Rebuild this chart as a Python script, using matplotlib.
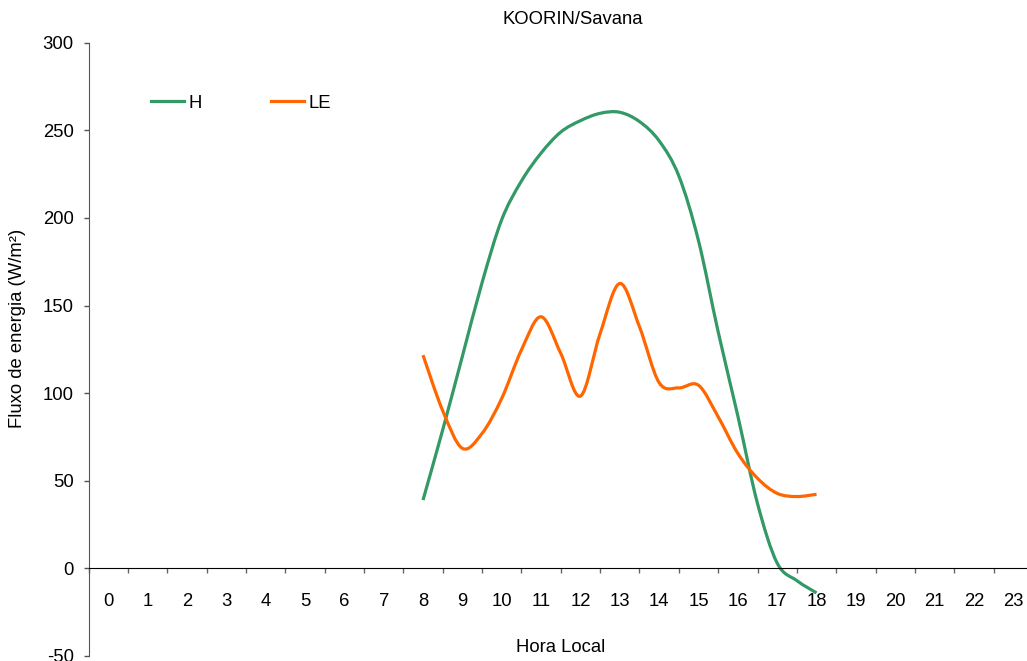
import matplotlib
matplotlib.use("Agg")
import matplotlib.pyplot as plt
import numpy as np
from matplotlib.path import Path
from matplotlib.patches import PathPatch
from matplotlib.lines import Line2D

plt.rcParams["font.family"] = ["Liberation Sans", "DejaVu Sans"]
plt.rcParams["axes.unicode_minus"] = False

GREEN = "#339966"
ORANGE = "#FF6600"

# half-hourly fluxes, local time
hours = [8, 8.5, 9, 9.5, 10, 10.5, 11, 11.5, 12, 12.5, 13, 13.5, 14, 14.5,
         15, 15.5, 16, 16.5, 17, 17.5, 18]
H = [39, 79, 121, 163, 199, 221, 237, 249, 255.5, 259.7, 260.3, 255, 244,
     224, 187, 135, 87, 37, 3, -7, -14]
LE = [121.7, 90, 68.5, 77, 97, 124.6, 143.6, 122.7, 98.3, 134, 162.6, 137.9,
      106, 103, 104.5, 86.5, 65.6, 51.4, 42.8, 41, 42.3]
hour_labels = [str(h) for h in range(24)]
yticks = [-50, 0, 50, 100, 150, 200, 250, 300]


def smooth_path(x, y):
    """Catmull-Rom style cubic Bezier path through the points."""
    p = np.column_stack([x, y]).astype(float)
    pts = np.vstack([p[0], p, p[-1]])
    verts = [p[0]]
    codes = [Path.MOVETO]
    for i in range(1, len(pts) - 2):
        p0, p1, p2, p3 = pts[i - 1], pts[i], pts[i + 1], pts[i + 2]
        c1 = p1 + (p2 - p0) / 6.0
        c2 = p2 - (p3 - p1) / 6.0
        verts += [c1, c2, p2]
        codes += [Path.CURVE4] * 3
    return Path(verts, codes)


fig = plt.figure(figsize=(10.27, 6.61), dpi=100)
ax = fig.add_axes([88.5 / 1027, 1 - 656 / 661, (1033 - 88.5) / 1027, (656 - 42.7) / 661])

for ys, col in [(H, GREEN), (LE, ORANGE)]:
    ax.add_patch(PathPatch(smooth_path(hours, ys), fill=False, edgecolor=col,
                           lw=2.3, capstyle="butt", joinstyle="round"))

ax.set_xlim(-0.5, 23.5)
ax.set_ylim(-50, 300)

# category axis: ticks on the boundaries, labels in the middle
ax.set_xticks(np.arange(-0.5, 24, 1.0))
ax.set_xticklabels([])
ax.set_xticks(range(24), minor=True)
ax.set_xticklabels(hour_labels, minor=True)
ax.tick_params(axis="x", which="major", direction="out", length=3.6,
               width=1, color="#666666")
ax.tick_params(axis="x", which="minor", length=0, pad=17.5, labelsize=13.3)

ax.set_yticks(yticks)
ax.tick_params(axis="y", direction="out", length=3.6, width=1,
               color="#555555", pad=7, labelsize=13.3)

ax.spines["bottom"].set_position(("data", 0))
ax.spines["bottom"].set_color("black")
ax.spines["left"].set_color("#555555")
ax.spines["top"].set_visible(False)
ax.spines["right"].set_visible(False)

fig.text(573 / 1027, 1 - 20 / 661, "KOORIN/Savana", ha="center", va="center",
         fontsize=13.3)
fig.text(561 / 1027, 1 - 648 / 661, "Hora Local", ha="center", va="center",
         fontsize=13.3)
fig.text(18 / 1027, 1 - 328 / 661, "Fluxo de energia (W/m²)", ha="center",
         va="center", rotation=90, fontsize=13.3)

handles = [Line2D([], [], color=GREEN, lw=2.3), Line2D([], [], color=ORANGE, lw=2.3)]
ax.legend(handles, ["H", "LE"], ncol=2, frameon=False, fontsize=13.3,
          loc="center left", bbox_to_anchor=(151 / 1027, 1 - 103 / 661),
          bbox_transform=fig.transFigure, borderpad=0, borderaxespad=0,
          handlelength=1.8, handletextpad=0.25, columnspacing=3.7)

fig.savefig("out.png", dpi=100)
plt.close(fig)
